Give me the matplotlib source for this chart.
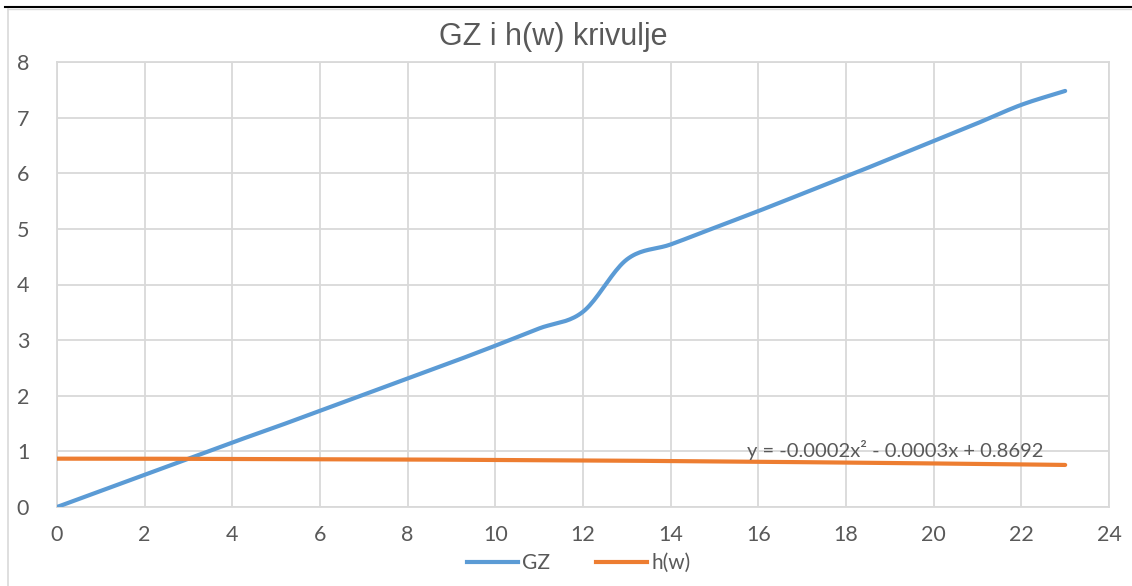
import numpy as np
import matplotlib
matplotlib.use("Agg")
import matplotlib.pyplot as plt
from matplotlib.lines import Line2D

# values
x_vals = [0, 1, 2, 3, 4, 5, 6, 7, 8, 9, 10, 11, 12, 13, 14, 15, 16, 17, 18, 19, 20, 21, 22, 23]
gz = [0.0, 0.29, 0.58, 0.87, 1.16, 1.44, 1.73, 2.02, 2.31, 2.60, 2.90, 3.21, 3.51, 4.45,
      4.72, 5.02, 5.32, 5.63, 5.94, 6.26, 6.58, 6.90, 7.23, 7.48]
hw = [0.869, 0.869, 0.868, 0.866, 0.865, 0.863, 0.860, 0.857, 0.854, 0.850, 0.846, 0.842,
      0.837, 0.832, 0.826, 0.820, 0.813, 0.806, 0.799, 0.791, 0.783, 0.775, 0.766, 0.756]
trend_label = "y = -0.0002x² - 0.0003x + 0.8692"
x_ticks = list(range(0, 25, 2))
y_ticks = list(range(0, 9))

BLUE = "#5B9BD5"
ORANGE = "#ED7D31"
GRID = "#D9D9D9"
TXT = "#595959"

plt.rcParams['font.family'] = ['Lato', 'DejaVu Sans']


def smooth(xs, ys, n=20):
    # catmull-rom curve through the points, like excel's smoothed line
    xs = np.asarray(xs, float)
    ys = np.asarray(ys, float)
    px = np.concatenate([[2 * xs[0] - xs[1]], xs, [2 * xs[-1] - xs[-2]]])
    py = np.concatenate([[2 * ys[0] - ys[1]], ys, [2 * ys[-1] - ys[-2]]])
    outx, outy = [], []
    t = np.linspace(0, 1, n, endpoint=False)
    for i in range(1, len(px) - 2):
        for p, out in ((px, outx), (py, outy)):
            p0, p1, p2, p3 = p[i - 1], p[i], p[i + 1], p[i + 2]
            out.extend(0.5 * ((2 * p1) + (-p0 + p2) * t + (2 * p0 - 5 * p1 + 4 * p2 - p3) * t ** 2
                              + (-p0 + 3 * p1 - 3 * p2 + p3) * t ** 3))
    outx.append(xs[-1])
    outy.append(ys[-1])
    return outx, outy


fig = plt.figure(figsize=(11.32, 5.86), dpi=100)
ax = fig.add_axes([57 / 1132, 1 - 507 / 586, (1109 - 57) / 1132, (507 - 62) / 586])

sx, sy = smooth(x_vals, gz)
ax.plot(sx, sy, color=BLUE, lw=3, solid_capstyle='round', zorder=3)
hx, hy = smooth(x_vals, hw)
ax.plot(hx, hy, color=ORANGE, lw=3, solid_capstyle='round', zorder=3)

ax.set_xlim(0, 24)
ax.set_ylim(0, 8)
ax.set_xticks(x_ticks)
ax.set_yticks(y_ticks)
ax.grid(True, color=GRID, lw=1.3)
ax.set_axisbelow(True)
for s in ax.spines.values():
    s.set_color(GRID)
    s.set_linewidth(1.3)
ax.tick_params(length=0, labelsize=15.5, colors=TXT, pad=13)
ax.tick_params(axis='y', pad=20)

ax.text(19.12, 1.03, trend_label, fontsize=14.5, color=TXT, ha='center', va='center')

fig.text(553 / 1132, 1 - 37 / 586, "GZ i h(w) krivulje", fontsize=22, color=TXT,
         family=['Liberation Sans', 'DejaVu Sans'], ha='center', va='center')

handles = [Line2D([0], [0], color=BLUE, lw=3), Line2D([0], [0], color=ORANGE, lw=3)]
fig.legend(handles, ["GZ", "h(w)"], loc='center', bbox_to_anchor=(579 / 1132, 1 - 563 / 586),
           ncol=2, frameon=False, fontsize=15, labelcolor=TXT, handlelength=2.45,
           handletextpad=0.2, columnspacing=2.2)

# page line and chart frame around the figure
fig.add_artist(Line2D([5 / 1132, 1], [1 - 7 / 586, 1 - 7 / 586], color='black', lw=1.5))
fig.add_artist(Line2D([8 / 1132, 8 / 1132], [0, 1 - 9 / 586], color=GRID, lw=1.2))
fig.add_artist(Line2D([8 / 1132, 1], [1 - 9 / 586, 1 - 9 / 586], color=GRID, lw=1.0))

fig.savefig("out.png", dpi=100)
